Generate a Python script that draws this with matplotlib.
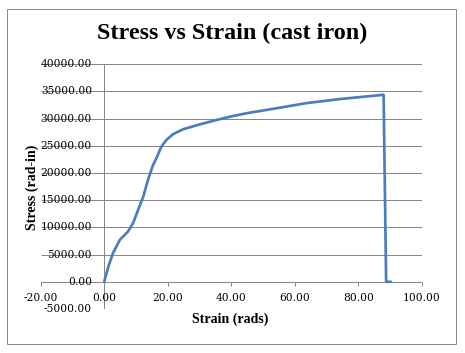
import matplotlib
matplotlib.use("Agg")
import matplotlib.pyplot as plt
from matplotlib.patches import Rectangle

# ---- data ----
strain = [0.0, 1.3, 2.8, 4.9, 7.5, 9.1, 10.7, 12.3, 13.8, 15.4, 16.5, 18.0, 19.6,
          21.7, 24.8, 30.1, 35.3, 40.6, 45.8, 53.1, 63.6, 74.1, 84.6, 88.0, 88.8, 90.3]
stress = [0, 2800, 5300, 7700, 9250, 10800, 13250, 15700, 18750, 21500, 22800,
          24850, 26100, 27150, 28050, 28950, 29750, 30500, 31100, 31800, 32850,
          33600, 34200, 34400, 0, 0]
x_ticks = [-20, 0, 20, 40, 60, 80, 100]
y_ticks = [-5000, 0, 5000, 10000, 15000, 20000, 25000, 30000, 35000, 40000]
title = "Stress vs Strain (cast iron)"
xlabel = "Strain (rads)"
ylabel = "Stress (rad-in)"

W, H = 465, 353
DPI = 100
PX = 72.0 / DPI  # points per pixel

fig = plt.figure(figsize=(W / DPI, H / DPI), dpi=DPI)
fig.patch.set_facecolor("white")

# outer chart border
fig.add_artist(Rectangle((6.5 / W, 1 - 343.5 / H), (456 - 6.5) / W, (343.5 - 9) / H,
                         transform=fig.transFigure, fill=False,
                         edgecolor="#8a8a8a", linewidth=1.0 * PX))

left, right, top, bottom = 40.7, 421.7, 64.3, 309.0
ax = fig.add_axes([left / W, 1 - bottom / H, (right - left) / W, (bottom - top) / H])
ax.set_xlim(x_ticks[0], x_ticks[-1])
ax.set_ylim(y_ticks[0], y_ticks[-1])
ax.axis("off")

grid_c = "#878787"
ax.hlines(y_ticks, x_ticks[0], x_ticks[-1], color=grid_c, linewidth=1.0 * PX, zorder=1)
ax.vlines(0, y_ticks[0], y_ticks[-1], color=grid_c, linewidth=1.0 * PX, zorder=1)
ax.plot(x_ticks, [0] * len(x_ticks), linestyle="none", marker=3,
        markersize=3.5 * PX, markeredgewidth=1.0 * PX, color=grid_c, zorder=1)

tick_font = dict(family="DejaVu Serif", size=7.7, color="black")
for v in y_ticks:
    ax.annotate(f"{v:.2f}", xy=(0, v), xytext=(-12.3 * PX, 0), textcoords="offset points",
                ha="right", va="center", zorder=3, **tick_font)
for v in x_ticks:
    ax.annotate(f"{v:.2f}", xy=(v, 0), xytext=(0, -16.5 * PX), textcoords="offset points",
                ha="center", va="center", zorder=3, **tick_font)

ax.plot(strain, stress, color="#4A7EBB", linewidth=2.7 * PX, solid_joinstyle="round",
        solid_capstyle="round", clip_on=False, zorder=4)

# titles
t = fig.text(232 / W, 1 - 33.5 / H, title, ha="center", va="center",
             family="Liberation Serif", weight="bold", size=17)
xl = fig.text(230.5 / W, 1 - 319.3 / H, xlabel, ha="center", va="center",
              family="Liberation Serif", weight="bold", size=9)
yl = fig.text(32.3 / W, 1 - 187.5 / H, ylabel, ha="center", va="center", rotation=90,
              family="Liberation Serif", weight="bold", size=9)

fig.canvas.draw()
r = fig.canvas.get_renderer()
for txt, target, attr in [(t, 270, "width"), (xl, 75.7, "width"), (yl, 85, "height")]:
    ext = txt.get_window_extent(r)
    cur = getattr(ext, attr)
    txt.set_fontsize(txt.get_fontsize() * target / cur)

fig.savefig("out.png", dpi=DPI, facecolor="white")
